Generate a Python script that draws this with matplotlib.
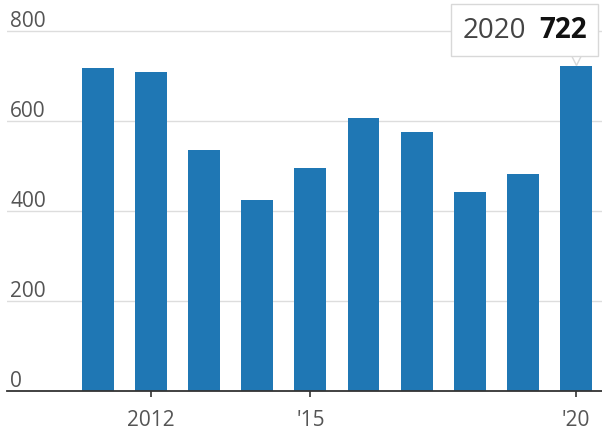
import matplotlib.pyplot as plt
from matplotlib.offsetbox import AnnotationBbox, HPacker, TextArea
from matplotlib.transforms import offset_copy

years = [2011, 2012, 2013, 2014, 2015, 2016, 2017, 2018, 2019, 2020]
values = [718, 709, 536, 425, 495, 607, 576, 443, 482, 722]
xtick_pos = [2012, 2015, 2020]
xtick_labels = ['2012', "'15", "'20"]
ytick_pos = [0, 200, 400, 600, 800]

plt.rcParams['font.family'] = ['Open Sans', 'DejaVu Sans']

fig = plt.figure(figsize=(6.02, 4.35), dpi=100)
ax = fig.add_axes([7 / 602, 43 / 435, 595 / 602, 392 / 435])

ax.bar(years, values, width=0.6, color='#1f77b4', zorder=2)

ax.set_xlim(2009.29, 2020.49)
ax.set_ylim(0, 871)

for s in ['top', 'right', 'left']:
    ax.spines[s].set_visible(False)
ax.spines['bottom'].set_color('#333333')
ax.spines['bottom'].set_linewidth(1.3)
ax.spines['bottom'].set_zorder(3)

ax.set_yticks(ytick_pos)
ax.set_yticklabels([str(v) for v in ytick_pos])
ax.yaxis.grid(True, color='#dddddd', linewidth=1, zorder=0)
ax.tick_params(axis='y', length=0, pad=-2.2, labelsize=15, labelcolor='#555555')
for lab in ax.get_yticklabels():
    lab.set_horizontalalignment('left')
    lab.set_verticalalignment('bottom')

ax.set_xticks(xtick_pos)
ax.set_xticklabels(xtick_labels)
ax.tick_params(axis='x', length=4, width=1.2, color='#333333', pad=9,
               labelsize=15, labelcolor='#555555')

# tooltip for the last bar
last_x, last_y = years[-1], values[-1]
tip = HPacker(children=[
    TextArea(str(last_x), textprops=dict(size=20, color='#444444')),
    TextArea(str(last_y), textprops=dict(size=20, color='#111111', weight='bold')),
], align='baseline', pad=0, sep=9)
ab = AnnotationBbox(tip, (last_x, last_y), xybox=(-37, 26), boxcoords='offset points',
                    frameon=True, pad=0.85,
                    bboxprops=dict(facecolor='white', edgecolor='#d8d8d8', linewidth=1))
ab.set_zorder(5)
ax.add_artist(ab)
ax.plot([last_x], [last_y], marker='v', markersize=10, markerfacecolor='white',
        markeredgecolor='#d8d8d8', markeredgewidth=1, zorder=4, clip_on=False,
        transform=offset_copy(ax.transData, fig=fig, x=0, y=6, units='points'))

fig.savefig('out.png', dpi=100)
